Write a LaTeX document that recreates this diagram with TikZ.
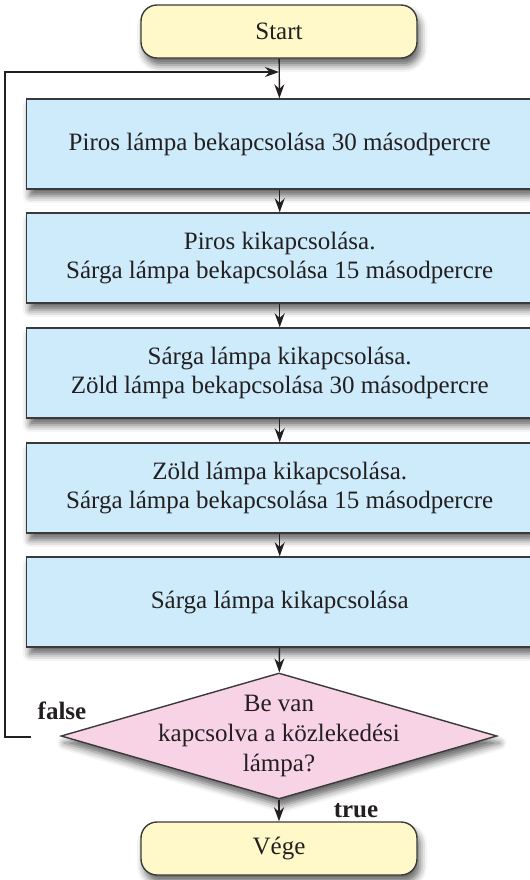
\documentclass[tikz,border=0pt]{standalone}
\usepackage{fontspec}
\setmainfont{Liberation Serif}
\usepackage{xcolor}
\definecolor{colTerm}{HTML}{FFF8C8}
\definecolor{colStep}{HTML}{CDEBFB}
\definecolor{colCheck}{HTML}{F8D3E5}
\definecolor{colLine}{HTML}{3A3A3A}
\definecolor{colText}{HTML}{231F20}
\usepackage{tikz}
\usetikzlibrary{arrows.meta, shapes.geometric, shadows.blur}

\tikzset{
  base/.style={draw=colLine, line width=0.7pt, text=colText,
    font=\fontsize{12.5}{14.5}\selectfont, align=center,
    blur shadow={shadow xshift=1.5pt, shadow yshift=-3.5pt,
      shadow blur radius=3.5pt, shadow opacity=60}},
  term/.style={base, fill=colTerm, rounded corners=8pt,
    minimum width=138pt, minimum height=26.5pt},
  stepbox/.style={base, fill=colStep, minimum width=253pt,
    minimum height=45pt, anchor=west},
  check/.style={base, diamond, fill=colCheck, minimum width=218pt,
    minimum height=63pt, inner sep=0pt},
  checktxt/.style={text=colText, font=\fontsize{12.5}{15}\selectfont, align=center},
  flow/.style={draw=colText, line width=0.7pt, -{Stealth[length=7pt,width=5pt]}},
  lbl/.style={font=\fontsize{12.5}{14.5}\selectfont\bfseries, text=colText}
}

\begin{document}
\begin{tikzpicture}[x=0.5pt, y=-0.5pt]
        \useasboundingbox (0,0) rectangle (530,880);

        % === Start / Vége ===
        \node[term] (start) at (279,31.5) {Start};
        \node[term] (vege)  at (279,848.5) {Vége};

        % === Lépések (bal széle x=26) ===
        \node[stepbox] (piros)  at (26,144) {Piros lámpa bekapcsolása 30 másodpercre};
        \node[stepbox] (sarga1) at (26,258) {Piros kikapcsolása.\\Sárga lámpa bekapcsolása 15 másodpercre};
        \node[stepbox] (zold)   at (26,373) {Sárga lámpa kikapcsolása.\\Zöld lámpa bekapcsolása 30 másodpercre};
        \node[stepbox] (sarga2) at (26,488) {Zöld lámpa kikapcsolása.\\Sárga lámpa bekapcsolása 15 másodpercre};
        \node[stepbox] (sargaki) at (26,602) {Sárga lámpa kikapcsolása};

        % === Feltétel ===
        \node[check] (check) at (279,736) {};
        \node[checktxt] (checktxt) at (check) {Be van\\kapcsolva a közlekedési\\lámpa?};

        % Nyilak lefelé
        \draw[flow] (start) -- (piros);
        \draw[flow] (piros) -- (sarga1);
        \draw[flow] (sarga1) -- (zold);
        \draw[flow] (zold) -- (sarga2);
        \draw[flow] (sarga2) -- (sargaki);
        \draw[flow] (sargaki) -- (check);
        \draw[flow] (check) -- (vege);

        % Visszacsatolás (false)
        \coordinate (hamis) at (31,737);
        \coordinate (vissza) at (279,72);
        \draw[flow] (hamis) -- ++(-26,0) |- (vissza);

        % Feliratok
        \node[lbl] (lfalse) at (62,711) {false};
        \node[lbl] (ltrue)  at (356,811) {true};
    \end{tikzpicture}
\end{document}
